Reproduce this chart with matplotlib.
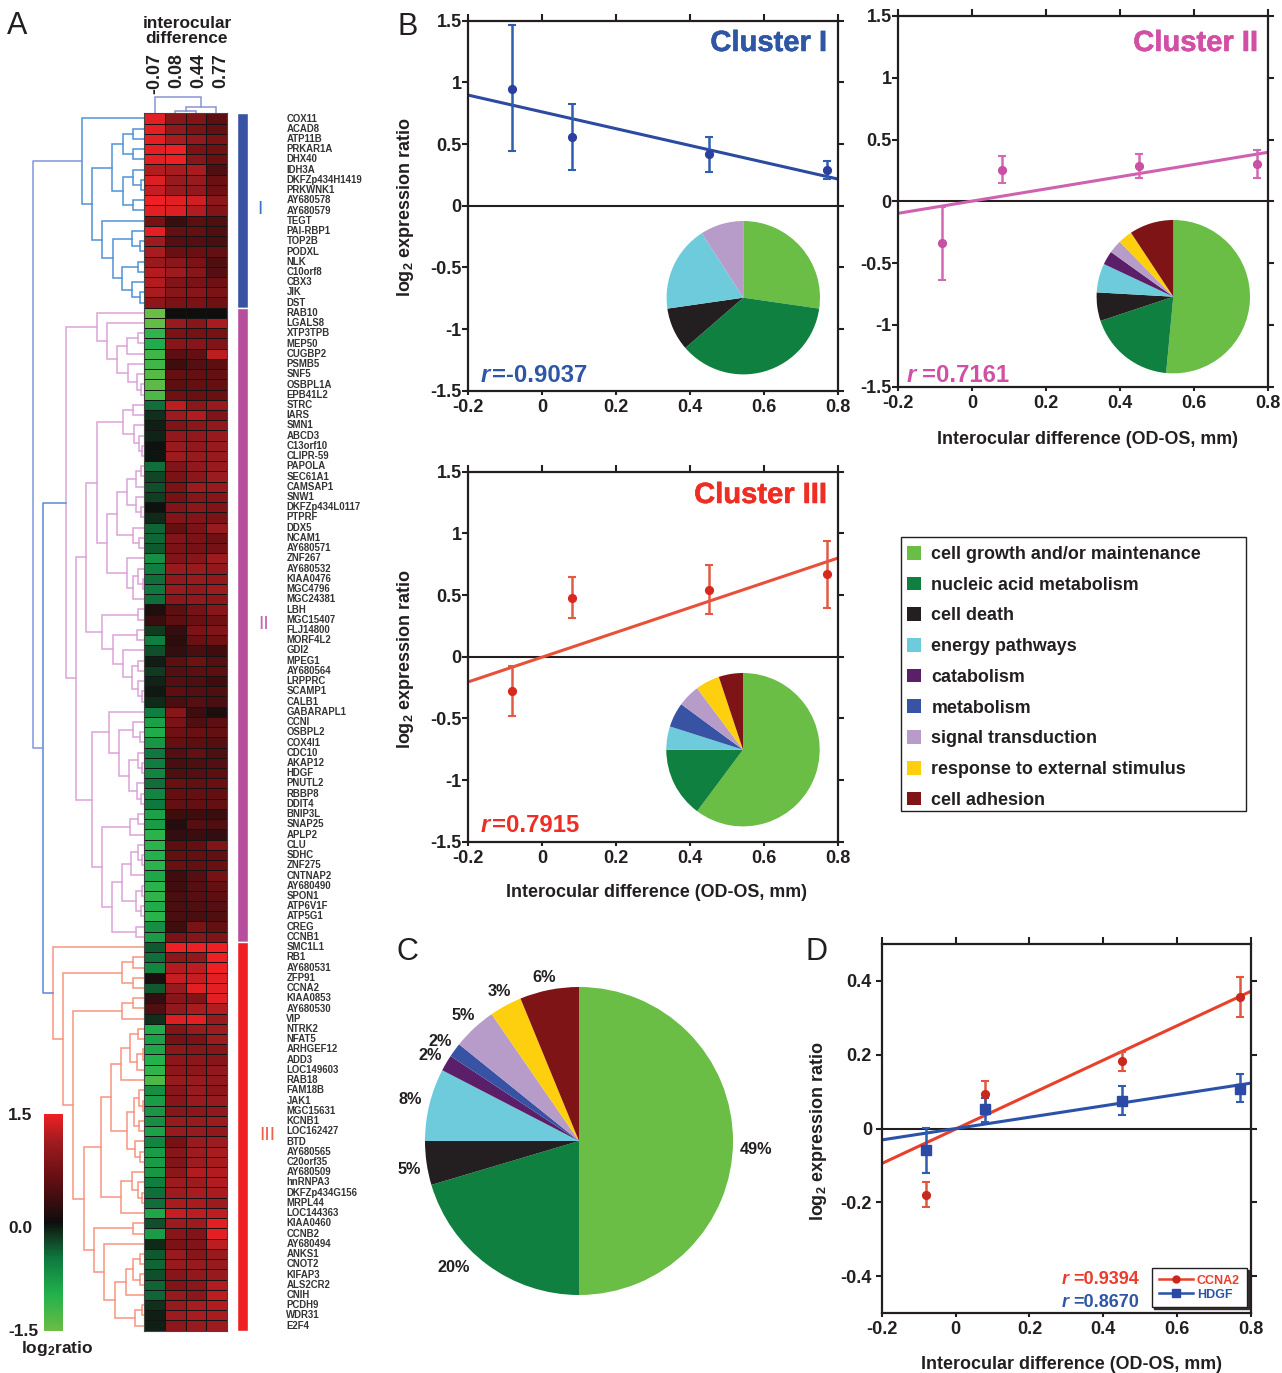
import matplotlib
matplotlib.use("Agg")
import matplotlib.pyplot as plt
import matplotlib.patheffects as pe
from matplotlib.colors import LinearSegmentedColormap
from matplotlib.lines import Line2D
from matplotlib.patches import Patch, Rectangle
from matplotlib.transforms import ScaledTranslation
import numpy as np

W, H = 1282, 1373
plt.rcParams['font.family'] = ['Liberation Sans', 'DejaVu Sans']
plt.rcParams['font.weight'] = 'bold'
plt.rcParams['text.color'] = '#231f20'
plt.rcParams['mathtext.fontset'] = 'custom'
plt.rcParams['mathtext.rm'] = 'Liberation Sans:bold'
plt.rcParams['mathtext.bf'] = 'Liberation Sans:bold'
plt.rcParams['mathtext.default'] = 'bf'

# ------------------ heatmap data ------------------
genes_1 = ["COX11", "ACAD8", "ATP11B", "PRKAR1A", "DHX40", "IDH3A", "DKFZp434H1419", "PRKWNK1",
           "AY680578", "AY680579", "TEGT", "PAI-RBP1", "TOP2B", "PODXL", "NLK", "C10orf8", "CBX3",
           "JIK", "DST"]
genes_2 = ["RAB10", "LGALS8", "XTP3TPB", "MEP50", "CUGBP2", "PSMB5", "SNF5", "OSBPL1A", "EPB41L2",
           "STRC", "IARS", "SMN1", "ABCD3", "C13orf10", "CLIPR-59", "PAPOLA", "SEC61A1", "CAMSAP1",
           "SNW1", "DKFZp434L0117", "PTPRF", "DDX5", "NCAM1", "AY680571", "ZNF267", "AY680532",
           "KIAA0476", "MGC4796", "MGC24381", "LBH", "MGC15407", "FLJ14800", "MORF4L2", "GDI2",
           "MPEG1", "AY680564", "LRPPRC", "SCAMP1", "CALB1", "GABARAPL1", "CCNI", "OSBPL2", "COX4I1",
           "CDC10", "AKAP12", "HDGF", "PNUTL2", "RBBP8", "DDIT4", "BNIP3L", "SNAP25", "APLP2", "CLU",
           "SDHC", "ZNF275", "CNTNAP2", "AY680490", "SPON1", "ATP6V1F", "ATP5G1", "CREG", "CCNB1"]
genes_3 = ["SMC1L1", "RB1", "AY680531", "ZFP91", "CCNA2", "KIAA0853", "AY680530", "VIP", "NTRK2",
           "NFAT5", "ARHGEF12", "ADD3", "LOC149603", "RAB18", "FAM18B", "JAK1", "MGC15631", "KCNB1",
           "LOC162427", "BTD", "AY680565", "C20orf35", "AY680509", "hnRNPA3", "DKFZp434G156",
           "MRPL44", "LOC144363", "KIAA0460", "CCNB2", "AY680494", "ANKS1", "CNOT2", "KIFAP3",
           "ALS2CR2", "CNIH", "PCDH9", "WDR31", "E2F4"]

heat_1 = [[1.45, .9, .85, .55], [1.45, 1.0, .8, .6], [1.45, 1.15, 1.0, .8], [1.45, 1.5, .8, .7],
          [1.45, 1.5, .9, .65], [1.2, 1.15, 1.15, .45], [1.4, 1.05, 1.05, .65], [1.3, 1.05, 1.0, .7],
          [1.5, 1.45, 1.35, .95], [1.45, 1.4, 1.2, .85], [.75, .3, .55, .45], [1.45, .6, .6, .45],
          [1.1, .5, .5, .4], [1.15, .65, .65, .6], [1.05, .95, .8, .45], [1.2, 1.1, .9, .5],
          [1.2, .85, .8, .7], [1.15, .9, .9, .8], [.95, .8, .8, .7]]
heat_2 = [[-1.5, .02, .02, .02], [-1.45, 1.05, .9, 1.15], [-1.1, .8, .75, .75], [-.95, .9, .9, .85],
          [-1.2, .55, .6, 1.25], [-1.2, .35, .5, .55], [-1.35, .6, .6, .6], [-1.4, .55, .6, .6],
          [-1.3, .7, .65, .65], [-.45, 1.25, .95, 1.05], [-.15, 1.1, 1.2, .85], [-.08, .85, .95, 1.0],
          [-.1, 1.0, 1.0, 1.05], [-.02, 1.05, 1.0, 1.05], [-.03, 1.1, 1.05, 1.05], [-.45, .85, 1.0, 1.05],
          [-.25, .8, .95, 1.1], [-.3, .8, 1.1, 1.05], [-.22, .75, .9, .9], [-.02, .85, .95, .85],
          [-.12, .85, .85, .8], [-.4, .6, .8, 1.05], [-.42, .85, .8, .7], [-.35, .8, .75, .75],
          [-.7, .85, .9, 1.1], [-.55, 1.05, 1.05, 1.0], [-.45, 1.0, 1.05, 1.0], [-.5, 1.05, 1.0, 1.1],
          [-.45, .95, 1.0, .95], [.12, .55, .75, .9], [.3, .55, .65, .7], [-.2, .25, .8, .85],
          [-.55, .2, .65, .7], [-.3, .25, .4, .35], [-.08, .55, .7, .5], [-.2, .5, .55, .55],
          [-.1, .5, .45, .35], [-.05, .55, .5, .45], [-.12, .4, .5, .4], [-.55, .9, .35, .1],
          [-.85, .8, .45, .55], [-.95, .7, .65, .6], [-.75, .6, .55, .5], [-.5, .5, .6, .45],
          [-.55, .4, .45, .5], [-.6, .45, .5, .55], [-.45, .65, .6, .65], [-.6, .6, .6, .6],
          [-.5, .6, .6, .6], [-.85, .35, .35, .3], [-.8, .15, .5, .45], [-1.05, .25, .3, .25],
          [-1.05, .55, .6, .85], [-1.0, .6, .6, .6], [-1.05, .65, .6, .65], [-.9, .35, .5, .75],
          [-1.05, .35, .5, .6], [-1.1, .4, .5, .55], [-.95, .4, .45, .5], [-1.05, .4, .4, .45],
          [-.7, .35, .8, .6], [-.8, .8, .9, .85]]
heat_3 = [[-.35, 1.5, 1.5, 1.5], [-.45, .95, 1.0, 1.5], [-.6, 1.2, 1.25, 1.5], [.1, 1.3, 1.3, 1.45],
          [-.35, 1.05, 1.45, 1.45], [.25, .9, .85, 1.45], [.45, 1.0, 1.15, 1.2], [-.15, 1.4, 1.45, 1.05],
          [-.95, .85, 1.05, 1.1], [-.85, .75, .8, 1.1], [-.9, .95, .9, .9], [-1.0, .95, .95, .9],
          [-1.1, .95, .95, 1.0], [-1.3, 1.05, 1.05, 1.0], [-.7, .9, 1.05, .95], [-.8, .9, 1.05, 1.05],
          [-.75, .9, .95, 1.0], [-.7, 1.05, 1.05, 1.1], [-.85, 1.05, 1.05, 1.0], [-.6, .75, 1.05, 1.1],
          [-.8, .9, 1.1, 1.15], [-.8, .85, 1.1, 1.15], [-.75, .95, 1.2, 1.2], [-.55, 1.1, 1.1, 1.2],
          [-.45, 1.1, 1.15, 1.15], [-.45, 1.15, 1.15, 1.1], [-.9, 1.3, 1.25, 1.25], [-.3, 1.1, 1.1, 1.45],
          [-.8, .9, .85, 1.45], [-.12, .8, .85, 1.25], [-.35, 1.05, .9, 1.05], [-.4, 1.05, 1.05, 1.05],
          [-.3, .9, 1.0, 1.05], [-.4, .85, .95, 1.2], [-.4, 1.05, .95, 1.25], [-.15, 1.05, 1.15, 1.2],
          [-.08, 1.1, 1.15, 1.15], [-.08, .95, 1.05, 1.1]]
col_labels = ["-0.07", "0.08", "0.44", "0.77"]

# dendrograms: (join depth, upper branch, lower branch), None is a leaf
L = None
tree_1 = (82, L, (92,
    (112, (123, (133, L, L), (133, L, L)), (123, (133, L, (141, L, L)), (133, L, L))),
    (102, L, (113, (132, L, (140, L, L)), (122, (138, L, L), (132, L, (140, L, L)))))))
tree_2a = (97, L, (107, L, (117, (127, (138, L, L), L), (128, L, (137, L, (141, L, L))))))
tree_2b = (97, (122.7, (133, L, L), (134, L, (139, L, (142, L, L)))),
           (107, (117, (127, (136, (141, L, L), L), (136, L, (141, L, L))), (133, L, (139, L, L))),
            (127, L, (133, (138, L, (143, L, L)), L))))
tree_2c = (102, (138, L, L), (112.7, (136.7, L, L), (122.7, L, (132, (138, L, L), (138, L, (141.7, L, L))))))
tree_2d = (109, L, (119, (133, L, (140, L, L)),
                    (129, (138, L, (142, L, L)), (136.7, L, (141, L, L)))))
tree_2e = (101.7, (130, (138, L, L), L),
           (111.7, (122, (130.7, (137.7, L, (142, L, L)), L), (135.7, (141.7, L, L), (141, L, L))),
            (135.7, L, L)))
tree_2 = (65.7, tree_2a, (76, (86, tree_2b, tree_2c), (91.7, tree_2d, tree_2e)))
tree_3a = (122.3, (133, L, L), (133, L, L))
tree_3b = (122.3, (133, L, L), L)
tree_3c = (100.7,
           (111, (121, (130, (138, L, L), (137, (142.7, L, L), L)), L),
            (126.7, (134, (139, L, (143, L, L)), (139, L, L)), (135, L, (140, L, L)))),
           (121, (131.7, L, (138, L, (142, L, L))), L))
tree_3d = (94.3, (133, L, L),
           (104.3, L, (115, (126, (133, (140, L, L), (140, L, L)), L), (135, (142, L, L), L))))
tree_3 = (53.3, L, (63.3, tree_3a, (73.3, tree_3b, (84, tree_3c, tree_3d))))
tree_cols = (97.3, L, (107.3, (110.7, L, L), L))
root_depths = [33, 43]

# ------------------ scatter data ------------------
xs = [-0.08, 0.08, 0.45, 0.77]
x_ends = [-0.2, 0.8]
y1_mean = [0.95, 0.557, 0.416, 0.286]
y1_lo = [0.443, 0.289, 0.27, 0.214]
y1_hi = [1.465, 0.824, 0.559, 0.362]
y1_fit = [0.897, 0.216]
y2_mean = [-0.34, 0.254, 0.286, 0.302]
y2_lo = [-0.64, 0.146, 0.186, 0.186]
y2_hi = [-0.043, 0.37, 0.383, 0.415]
y2_fit = [-0.097, 0.397]
y3_mean = [-0.275, 0.48, 0.543, 0.667]
y3_lo = [-0.483, 0.316, 0.348, 0.395]
y3_hi = [-0.076, 0.648, 0.74, 0.937]
y3_fit = [-0.205, 0.8]
ccna2_mean = [-0.179, 0.093, 0.183, 0.357]
ccna2_lo = [-0.212, 0.06, 0.155, 0.303]
ccna2_hi = [-0.145, 0.13, 0.206, 0.41]
ccna2_fit = [-0.095, 0.372]
hdgf_mean = [-0.059, 0.053, 0.075, 0.108]
hdgf_lo = [-0.12, 0.017, 0.036, 0.071]
hdgf_hi = [0.002, 0.083, 0.114, 0.147]
hdgf_fit = [-0.031, 0.123]

# ------------------ pie data ------------------
categories = ["cell growth and/or maintenance", "nucleic acid metabolism", "cell death",
              "energy pathways", "catabolism", "metabolism", "signal transduction",
              "response to external stimulus", "cell adhesion"]
cat_colors = ['#6abd45', '#0f8040', '#231f20', '#6dcbdc', '#5b1f69', '#3853a4', '#b79bc8', '#fdcf0f', '#7e1416']
pie_1 = [27.3, 36.4, 9.1, 18.2, 0, 0, 9.1, 0, 0]
pie_2 = [51.5, 18.4, 6.0, 6.1, 2.9, 0, 2.8, 3.0, 9.3]
pie_3 = [60.2, 14.8, 0, 4.9, 0, 5.2, 4.7, 5.1, 5.1]
pie_all = [50.0, 20.4, 4.6, 7.6, 1.7, 1.5, 4.6, 3.4, 6.2]
pie_all_labels = ["49%", "20%", "5%", "8%", "2%", "2%", "5%", "3%", "6%"]

# ------------------ helpers ------------------
fig = plt.figure(figsize=(W / 100, H / 100), dpi=100, facecolor='white')


def px_ax(x0, y0, x1, y1, **kw):
    return fig.add_axes([x0 / W, 1 - y1 / H, (x1 - x0) / W, (y1 - y0) / H], **kw)


def px_text(x, y, s, **kw):
    kw.setdefault('ha', 'center')
    kw.setdefault('va', 'center')
    return fig.text(x / W, 1 - y / H, s, **kw)


def r_label(x, y, rest, color, size, gap=2):
    t = px_text(x, y, 'r', style='italic', color=color, fontsize=size, ha='left', va='baseline')
    w = t.get_window_extent(renderer=fig.canvas.get_renderer()).width
    px_text(x + w + gap, y, rest, color=color, fontsize=size, ha='left', va='baseline')


def title(x, y, s, color):
    t = px_text(x, y, s, color=color, fontsize=21, ha='right')
    t.set_path_effects([pe.withStroke(linewidth=0.4, foreground=color)])


def draw_tree(ax, node, rows, color, leaf_depth, swap=False, lw=1.1):
    if node is None:
        return leaf_depth, next(rows) + 0.5
    depth, upper, lower = node
    d1, p1 = draw_tree(ax, upper, rows, color, leaf_depth, swap, lw)
    d2, p2 = draw_tree(ax, lower, rows, color, leaf_depth, swap, lw)
    a, b = [d1, depth, depth, d2], [p1, p1, p2, p2]
    if swap:
        a, b = b, a
    ax.plot(a, b, color=color, lw=lw, solid_joinstyle='miter')
    return depth, (p1 + p2) / 2


def style_axes(ax, ylim, yticks, ylabels, ypad=0.5):
    ax.set_xlim(-0.2, 0.8)
    ax.set_ylim(*ylim)
    ax.set_xticks([-0.2, 0, 0.2, 0.4, 0.6, 0.8])
    ax.set_xticklabels(["-0.2", "0", "0.2", "0.4", "0.6", "0.8"])
    ax.set_yticks(yticks)
    ax.set_yticklabels(ylabels)
    ax.tick_params(axis='both', labelsize=13, width=1.5, color='#231f20', labelcolor='#231f20')
    ax.tick_params(axis='x', which='both', top=True, length=3, pad=3)
    ax.tick_params(axis='y', which='both', right=True, length=4, pad=ypad)
    for tick in ax.xaxis.get_major_ticks():
        tick.tick2line.set_markersize(5)
    for sp in ax.spines.values():
        sp.set_linewidth(1.6)
        sp.set_color('#231f20')
    ax.axhline(0, color='#231f20', lw=1.5, zorder=1)
    ax.patch.set_visible(False)


def series(ax, mean, lo, hi, fit, line_color, point_color, bar_color, marker='o', ms=5.6):
    mean, lo, hi = np.array(mean), np.array(lo), np.array(hi)
    ax.errorbar(xs, mean, yerr=[mean - lo, hi - mean], fmt=marker, color=point_color, ecolor=bar_color,
                elinewidth=1.8, capsize=2.6, capthick=1.5, ms=ms, zorder=3)
    ax.plot(x_ends, fit, color=line_color, lw=2.2, zorder=2, solid_capstyle='butt')


def pie_inset(cx, cy, r, values):
    ax = px_ax(cx - r, cy - r, cx + r, cy + r)
    ax.pie(values, colors=cat_colors, startangle=90, counterclock=False, radius=1,
           wedgeprops={'linewidth': 0})
    ax.set_xlim(-1, 1)
    ax.set_ylim(-1, 1)
    ax.patch.set_visible(False)
    return ax


cmap = LinearSegmentedColormap.from_list('heat', [
    (0.0, '#6abd45'), (0.167, '#22b14c'), (0.33, '#0f7a3f'), (0.45, '#10301c'), (0.5, '#0d0d0d'),
    (0.6, '#3a0d0f'), (0.717, '#6a0f12'), (0.867, '#9c1b1f'), (1.0, '#ee2024')])

# ------------------ A: heatmap ------------------
HX0, HX1, HY0, HY1 = 144.3, 226.7, 113.3, 1330.7
genes = genes_1 + genes_2 + genes_3
heat = np.array(heat_1 + heat_2 + heat_3)
n_rows = len(genes)

ax = px_ax(HX0, HY0, HX1, HY1)
mesh = ax.pcolormesh(heat, cmap=cmap, vmin=-1.5, vmax=1.5, edgecolors='#141414', linewidth=0.7)
ax.set_xlim(0, 4)
ax.set_ylim(n_rows, 0)
ax.set_xticks([])
ax.yaxis.tick_right()
ax.set_yticks(np.arange(n_rows) + 0.5)
ax.set_yticklabels(genes, fontsize=6.9, color='#333333')
ax.tick_params(axis='y', length=0, pad=43)
for lbl in ax.get_yticklabels():
    lbl.set_transform(lbl.get_transform() + ScaledTranslation(0, 0.9 / 100, fig.dpi_scale_trans))
for sp in ax.spines.values():
    sp.set_color('#444444')
    sp.set_linewidth(0.8)

# row dendrogram
dax = px_ax(30, HY0, HX0, HY1)
dax.set_xlim(30, HX0)
dax.set_ylim(n_rows, 0)
dax.axis('off')
rows = iter(range(n_rows))
d1, p1 = draw_tree(dax, tree_1, rows, '#4f93d8', HX0)
d2, p2 = draw_tree(dax, tree_2, rows, '#dda3d8', HX0)
d3, p3 = draw_tree(dax, tree_3, rows, '#f8957f', HX0)
p_low = (p2 + p3) / 2
dax.plot([d2, root_depths[1], root_depths[1], d3], [p2, p2, p3, p3], color='#5f86d8', lw=1.1)
dax.plot([d1, root_depths[0], root_depths[0], root_depths[1]], [p1, p1, p_low, p_low], color='#7f96e0', lw=1.1)

# column dendrogram
tax = px_ax(HX0, 90, HX1, HY0)
tax.set_xlim(0, 4)
tax.set_ylim(HY0, 90)
tax.axis('off')
draw_tree(tax, tree_cols, iter(range(4)), '#8a94d0', HY0, swap=True)

# cluster bars
bax = px_ax(237.3, HY0, 247.7, HY1)
bax.set_xlim(-0.5, 0.5)
bax.set_ylim(n_rows, 0)
bax.axis('off')
sizes = [len(genes_1), len(genes_2), len(genes_3)]
bax.bar(0, sizes, width=1, bottom=np.cumsum([0] + sizes[:-1]),
        color=['#3853a4', '#b84f9e', '#ee2024'], edgecolor='white', linewidth=1.0)
px_text(260, 209, "I", color='#3b78c8', fontsize=14, fontweight='normal')
px_text(264, 624, "II", color='#c765b5', fontsize=14, fontweight='normal')
px_text(267, 1135, "III", color='#f0604a', fontsize=14, fontweight='normal')

px_text(187, 24, "interocular", fontsize=12.4)
px_text(187, 38.5, "difference", fontsize=12.4)
for x_lab, lab in zip([155, 177, 199, 221], col_labels):
    px_text(x_lab, 53, lab, fontsize=12.8, rotation=90, va='top')

# colorbar
cax = px_ax(44, 1114, 62.7, 1331)
cb = fig.colorbar(mesh, cax=cax)
cb.outline.set_visible(False)
cb.set_ticks([])
px_text(8, 1115, "1.5", fontsize=12.5, ha='left')
px_text(8, 1228.5, "0.0", fontsize=12.5, ha='left')
px_text(8, 1331, "-1.5", fontsize=12.5, ha='left')
px_text(57, 1348, r"log$_2$ratio", fontsize=12.5)

# ------------------ B: clusters ------------------
y_ticks = [-1.5, -1, -0.5, 0, 0.5, 1, 1.5]
y_labels = ["-1.5", "-1", "-0.5", "0", "0.5", "1", "1.5"]

ax1 = px_ax(468, 20.7, 838, 390.7)
style_axes(ax1, (-1.5, 1.5), y_ticks, y_labels)
series(ax1, y1_mean, y1_lo, y1_hi, y1_fit, '#2b4aa0', '#2b3f9e', '#2f5db0')
pie_inset(743.3, 297.7, 76.7, pie_1)
title(827, 43, "Cluster I", '#2f55a5')
r_label(480.7, 381.7, "=-0.9037", '#2f55a5', 17.2)

ax2 = px_ax(898, 16, 1268, 386.7)
style_axes(ax2, (-1.5, 1.5), y_ticks, y_labels)
series(ax2, y2_mean, y2_lo, y2_hi, y2_fit, '#cf62b0', '#c850a5', '#d468b4')
pie_inset(1173.3, 296.7, 76.7, pie_2)
title(1258, 43, "Cluster II", '#d14fa5')
r_label(906.7, 381.7, "=0.7161", '#d14fa5', 17.2, gap=6)

ax3 = px_ax(468, 471.7, 838, 841.7)
style_axes(ax3, (-1.5, 1.5), y_ticks, y_labels)
series(ax3, y3_mean, y3_lo, y3_hi, y3_fit, '#e8503a', '#d9281e', '#e25a45')
pie_inset(743, 749.7, 76.7, pie_3)
title(827, 495, "Cluster III", '#ee2e24')
r_label(480.7, 831.7, "=0.7915", '#ee2e24', 17.2)

px_text(406, 207, r"log$_2$ expression ratio", fontsize=13, rotation=90)
px_text(406, 659, r"log$_2$ expression ratio", fontsize=13, rotation=90)
px_text(1087.5, 440, "Interocular difference (OD-OS, mm)", fontsize=12.9)
px_text(656, 892.2, "Interocular difference (OD-OS, mm)", fontsize=12.9)

# category legend
handles = [Patch(facecolor=c, edgecolor='none') for c in cat_colors]
fig.legend(handles, categories, loc='upper left', bbox_to_anchor=(907 / W, 1 - 546 / H),
           fontsize=12.9, frameon=False, handlelength=0.8, handleheight=0.8, handletextpad=0.56,
           labelspacing=0.76, borderpad=0, borderaxespad=0)
fig.add_artist(Rectangle((901 / W, 1 - 811 / H), 345 / W, 274 / H, transform=fig.transFigure,
                         fill=False, edgecolor='#231f20', linewidth=1.0))

# ------------------ C: overall pie ------------------
pie_inset(579, 1141, 154, pie_all)
label_xy = [(756, 1150), (454, 1267), (409, 1170), (410, 1099), (430, 1056), (440, 1041),
            (463, 1016), (499, 992), (544, 977)]
for lab, (lx, ly) in zip(pie_all_labels, label_xy):
    px_text(lx, ly, lab, fontsize=11.7)

# ------------------ D: two genes ------------------
axd = px_ax(881.7, 944, 1251, 1313)
style_axes(axd, (-0.5, 0.5), [-0.4, -0.2, 0, 0.2, 0.4], ["-0.4", "-0.2", "0", "0.2", "0.4"], ypad=3)
series(axd, ccna2_mean, ccna2_lo, ccna2_hi, ccna2_fit, '#e8402a', '#c8281e', '#e2553f')
series(axd, hdgf_mean, hdgf_lo, hdgf_hi, hdgf_fit, '#2a52a8', '#2a4aa6', '#2f5bb0', marker='s', ms=6.5)
px_text(818.7, 1131, r"log$_2$ expression ratio", fontsize=13, rotation=90)
px_text(1071.7, 1364.2, "Interocular difference (OD-OS, mm)", fontsize=12.9)
r_label(1062, 1284, "=0.9394", '#ee3a2a', 13, gap=4)
r_label(1062, 1306.7, "=0.8670", '#2f55a5', 13, gap=4)
gene_handles = [Line2D([], [], color='#e8402a', lw=1.8, marker='o', ms=5, mfc='#c8281e', mec='#c8281e'),
                Line2D([], [], color='#2a52a8', lw=1.8, marker='s', ms=5.5, mfc='#2a4aa6', mec='#2a4aa6')]
gleg = axd.legend(gene_handles, ["CCNA2", "HDGF"], loc='lower right', bbox_to_anchor=(0.988, 0.0154),
                  fontsize=9, frameon=True, fancybox=False,
                  shadow={'ox': 1.5, 'oy': -1.5, 'color': '#231f20', 'alpha': 0.9},
                  edgecolor='#231f20', framealpha=1, handlelength=2.75, handletextpad=0.3,
                  borderaxespad=0, labelspacing=0.15, borderpad=0.53)
gleg.get_texts()[0].set_color('#e8402a')
gleg.get_texts()[1].set_color('#2a52a8')

# panel letters
px_text(7, 26, "A", fontsize=22, fontweight='normal', ha='left')
px_text(397, 26.7, "B", fontsize=22, fontweight='normal', ha='left')
px_text(397, 951.7, "C", fontsize=22, fontweight='normal', ha='left')
px_text(806, 952, "D", fontsize=22, fontweight='normal', ha='left')

fig.savefig("out.png", dpi=100, facecolor='white')
